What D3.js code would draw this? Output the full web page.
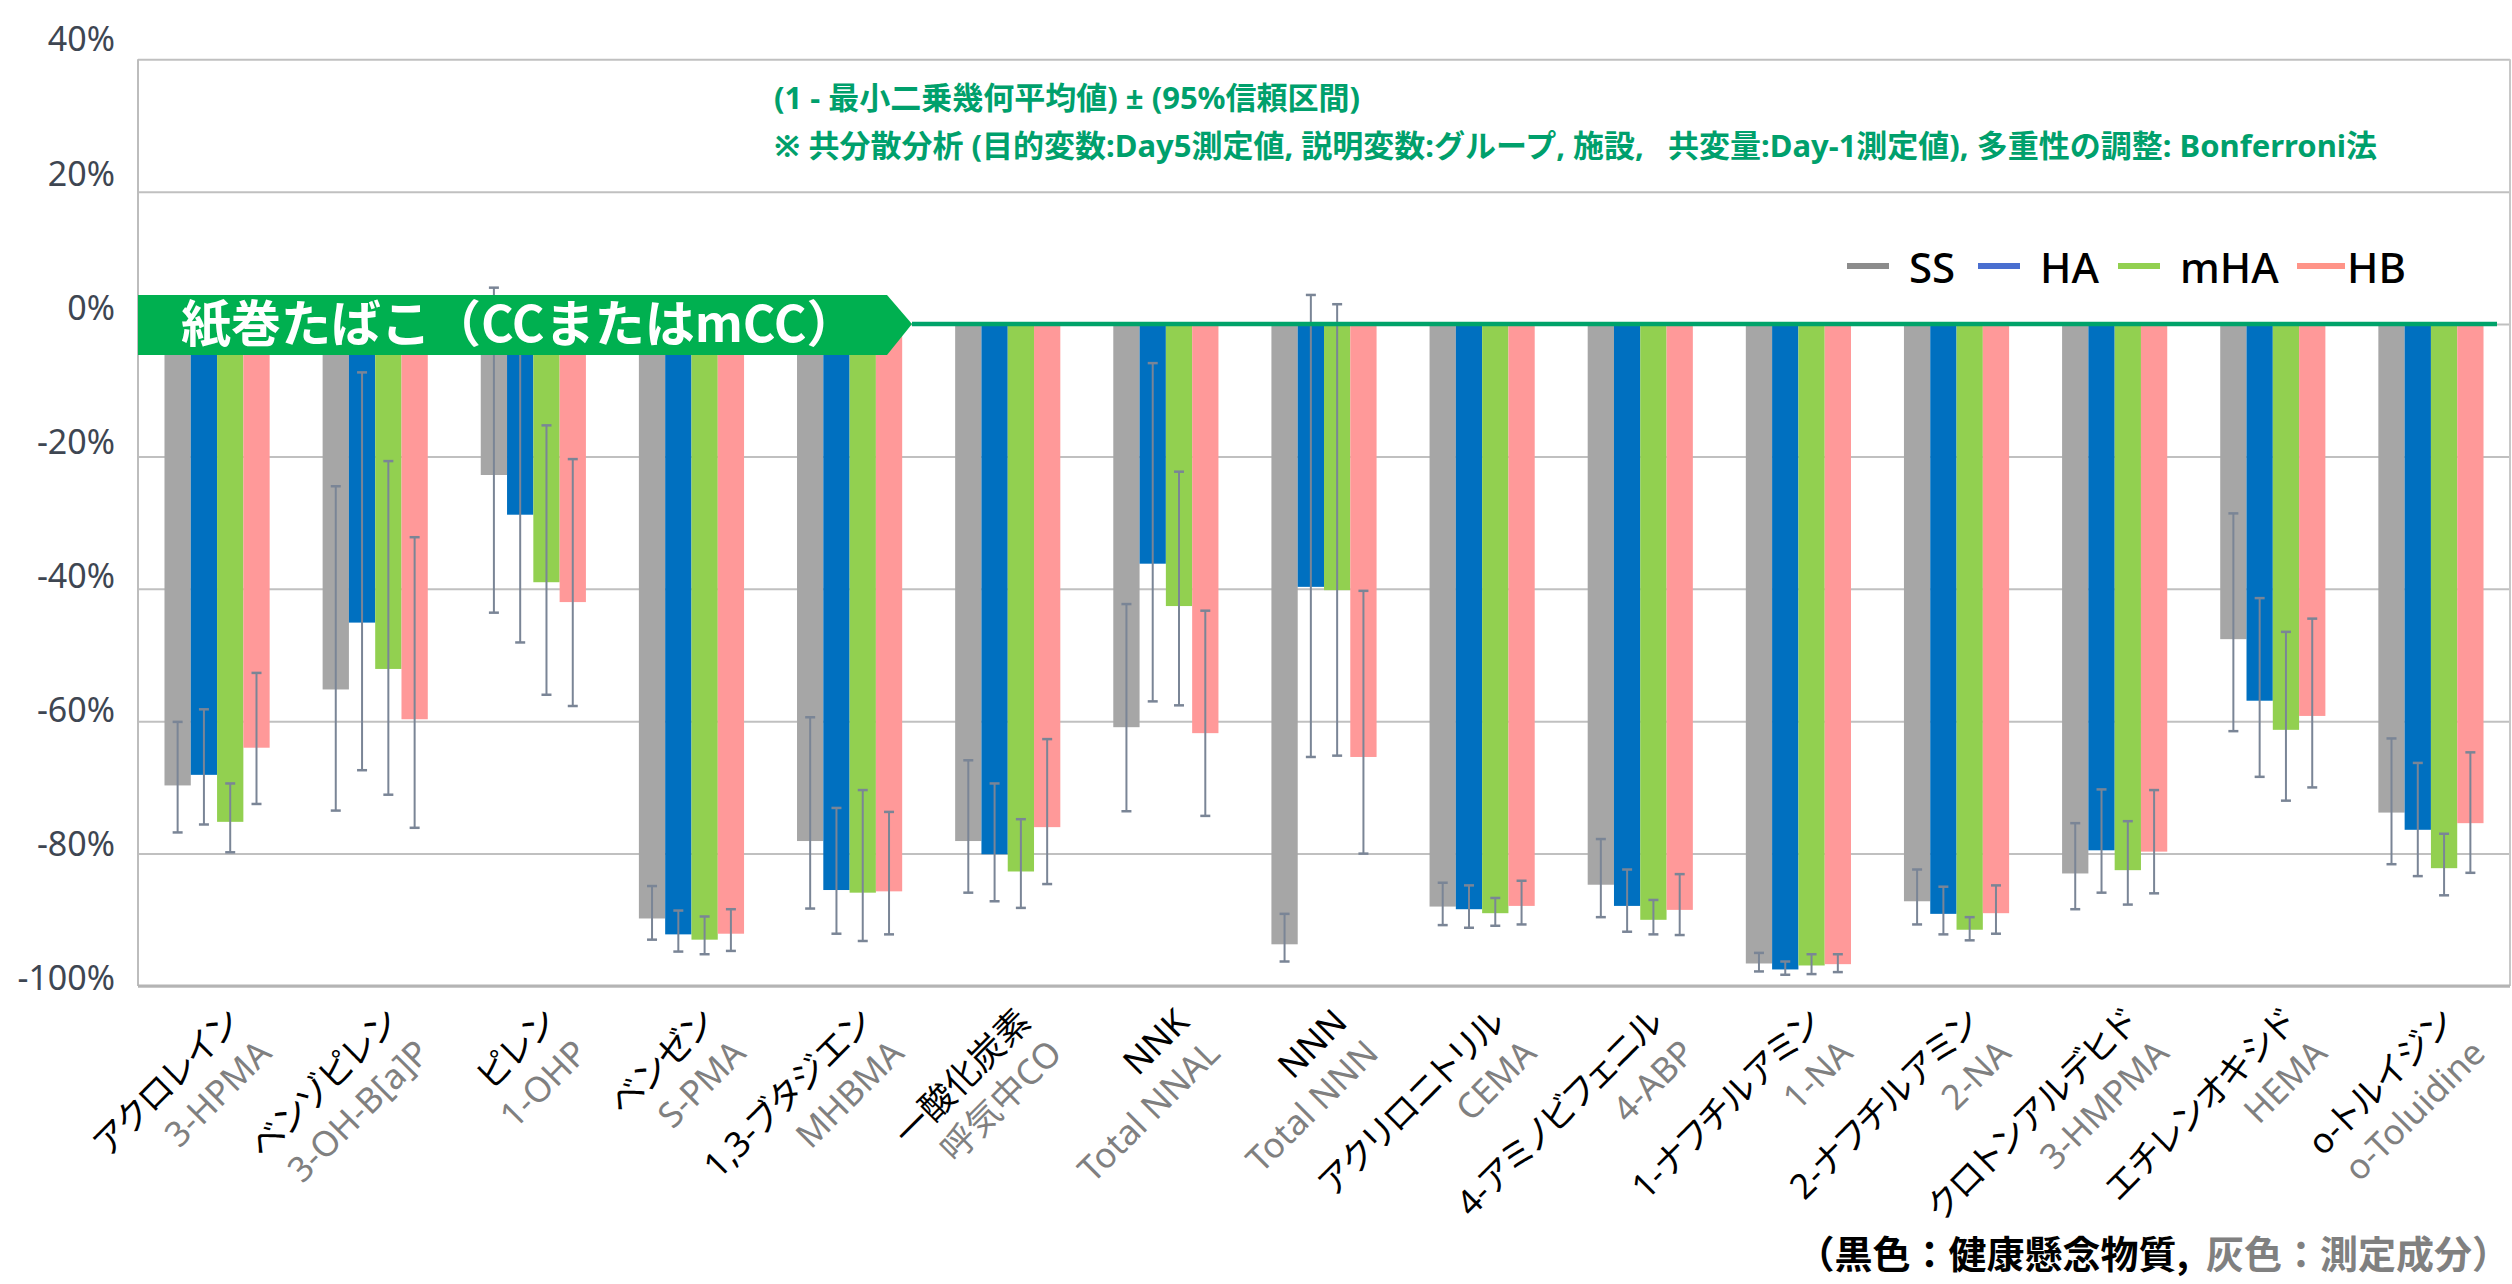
<!DOCTYPE html>
<html>
<head>
<meta charset="utf-8">
<script src="https://cdn.jsdelivr.net/npm/d3@7"></script>
<style>
  body { margin: 0; background: #fff; }
  svg { display: block; }
  text { font-family: "Noto Sans", "Noto Sans CJK JP", sans-serif; white-space: pre; }
</style>
</head>
<body>
<svg id="svg1" width="2512" height="1284"></svg>
<script>
// categories (black = substance, gray = measured biomarker)
var categories = ["アクロレイン", "ベンゾピレン", "ピレン", "ベンゼン", "1,3-ブタジエン", "一酸化炭素", "NNK", "NNN",
    "アクリロニトリル", "4-アミノビフェニル", "1-ナフチルアミン", "2-ナフチルアミン", "クロトンアルデヒド", "エチレンオキシド", "o-トルイジン"];
var markers = ["3-HPMA", "3-OH-B[a]P", "1-OHP", "S-PMA", "MHBMA", "呼気中CO", "Total NNAL", "Total NNN",
    "CEMA", "4-ABP", "1-NA", "2-NA", "3-HMPMA", "HEMA", "o-Toluidine"];
var groups = ["SS", "HA", "mHA", "HB"];

// (1 - LS geometric mean) in %, and 95% CI ends
var ssMean  = [-69.7, -55.2, -22.8, -89.8, -78.1, -78.1, -60.9, -93.7, -88.0, -84.7, -96.6, -87.2, -83.0, -47.6, -73.8];
var ssHigh  = [-60.1, -24.5,   5.5, -84.9, -59.4, -65.9, -42.3, -89.1, -84.4, -77.8, -95.0, -82.4, -75.4, -28.6, -62.6];
var ssLow   = [-76.8, -73.5, -43.6, -93.0, -88.3, -85.9, -73.6, -96.3, -90.8, -89.6, -97.8, -90.7, -88.4, -61.5, -81.6];

var haMean  = [-68.1, -45.1, -28.8, -92.2, -85.5, -80.1, -36.2, -39.7, -88.4, -87.9, -97.5, -89.1, -79.5, -56.9, -76.4];
var haHigh  = [-58.2,  -7.3,  -2.0, -88.6, -73.1, -69.4,  -5.9,   4.4, -84.8, -82.4, -96.3, -85.0, -70.3, -41.4, -66.3];
var haLow   = [-75.6, -67.4, -48.1, -94.8, -92.1, -87.2, -57.0, -65.4, -91.2, -91.8, -98.3, -92.2, -85.9, -68.4, -83.4];

var mhaMean = [-75.2, -52.1, -39.0, -93.0, -85.9, -82.7, -42.6, -40.2, -89.0, -90.0, -96.9, -91.5, -82.5, -61.3, -82.2];
var mhaHigh = [-69.4, -20.7, -15.3, -89.5, -70.4, -74.8, -22.3,   3.0, -86.7, -87.0, -95.2, -89.6, -75.1, -46.5, -77.0];
var mhaLow  = [-79.8, -71.1, -56.0, -95.2, -93.2, -88.2, -57.6, -65.2, -90.9, -92.2, -98.2, -93.1, -87.7, -72.0, -86.3];

var hbMean  = [-64.0, -59.7, -42.0, -92.1, -85.7, -76.0, -61.8, -65.4, -87.9, -88.5, -96.7, -89.0, -79.7, -59.2, -75.4];
var hbHigh  = [-52.7, -32.2, -20.4, -88.4, -73.7, -62.7, -43.3, -40.3, -84.1, -83.1, -95.2, -84.8, -70.4, -44.5, -64.7];
var hbLow   = [-72.5, -76.1, -57.7, -94.7, -92.2, -84.6, -74.3, -80.0, -90.7, -92.3, -97.9, -92.1, -86.0, -70.0, -82.9];

var yTicks = [40, 20, 0, -20, -40, -60, -80, -100];

var means = [ssMean, haMean, mhaMean, hbMean];
var highs = [ssHigh, haHigh, mhaHigh, hbHigh];
var lows  = [ssLow, haLow, mhaLow, hbLow];
var barColors = ["#a6a6a6", "#0070c0", "#92d050", "#ff9999"];
var legendColors = ["#8c8c8c", "#4a6fd0", "#92d050", "#ff9488"];

var svg = d3.select('svg');

var plotLeft = 138, plotRight = 2510, plotTop = 59.3, plotBottom = 986;

var x0 = d3.scaleBand()
    .domain(categories)
    .range([plotLeft, plotRight])
    .paddingInner(0.335)
    .paddingOuter(0.1675);

var x1 = d3.scaleBand()
    .domain(groups)
    .range([0, x0.bandwidth()]);

var y = d3.scaleLinear().domain([-100, 40]).range([plotBottom, plotTop]);
// tick labels sit a bit above their gridlines in the original
var yLabel = d3.scaleLinear().domain([-100, 40]).range([979, 40]);

// gridlines
var grid = svg.append('g')
    .attr('transform', 'translate(' + plotLeft + ',0)')
    .call(d3.axisLeft(y).tickValues(yTicks).tickSize(-(plotRight - plotLeft)).tickFormat(''));
grid.select('.domain').remove();
grid.selectAll('line').attr('stroke', '#c0c0c0').attr('stroke-width', 2);

// plot frame (left, right, bottom)
svg.append('line').attr('x1', plotLeft).attr('x2', plotLeft).attr('y1', plotTop).attr('y2', plotBottom)
    .attr('stroke', '#bdbdbd').attr('stroke-width', 2);
svg.append('line').attr('x1', plotRight).attr('x2', plotRight).attr('y1', plotTop).attr('y2', plotBottom)
    .attr('stroke', '#c8c8c8').attr('stroke-width', 2);
svg.append('line').attr('x1', plotLeft).attr('x2', plotRight).attr('y1', plotBottom).attr('y2', plotBottom)
    .attr('stroke', '#b4b4b4').attr('stroke-width', 3);

// y labels
var yAxis = svg.append('g')
    .attr('transform', 'translate(115,0)')
    .call(d3.axisLeft(yLabel).tickValues(yTicks).tickSize(0).tickPadding(0).tickFormat(function(d){ return d + '%'; }));
yAxis.select('.domain').remove();
yAxis.selectAll('text')
    .attr('font-size', 34)
    .attr('fill', '#3e4652')
    .style('font-family', '"Noto Sans", sans-serif');

// bars
var catG = svg.append('g').selectAll('g')
    .data(categories)
    .enter()
    .append('g')
    .attr('transform', function(d){ return 'translate(' + x0(d) + ',0)'; });

function cells(d, ci) {
    return groups.map(function(g, gi){
        return {g: g, gi: gi, v: means[gi][ci], hi: highs[gi][ci], lo: lows[gi][ci]};
    });
}

catG.selectAll('rect')
    .data(cells)
    .enter()
    .append('rect')
    .attr('x', function(d){ return x1(d.g); })
    .attr('width', x1.bandwidth())
    .attr('y', y(0))
    .attr('height', function(d){ return y(d.v) - y(0); })
    .attr('fill', function(d){ return barColors[d.gi]; });

// error bars
var errColor = '#7a8596';
var errG = catG.selectAll('g.err')
    .data(cells)
    .enter()
    .append('g')
    .attr('class', 'err')
    .attr('transform', function(d){ return 'translate(' + (x1(d.g) + x1.bandwidth() / 2) + ',0)'; });
errG.append('line')
    .attr('y1', function(d){ return y(d.hi); })
    .attr('y2', function(d){ return y(d.lo); })
    .attr('stroke', errColor).attr('stroke-width', 2);
errG.append('line')
    .attr('x1', -5).attr('x2', 5)
    .attr('y1', function(d){ return y(d.hi); })
    .attr('y2', function(d){ return y(d.hi); })
    .attr('stroke', errColor).attr('stroke-width', 2.5);
errG.append('line')
    .attr('x1', -5).attr('x2', 5)
    .attr('y1', function(d){ return y(d.lo); })
    .attr('y2', function(d){ return y(d.lo); })
    .attr('stroke', errColor).attr('stroke-width', 2.5);

// zero line (green) and CC banner
var bannerTip = 912;
svg.append('line')
    .attr('x1', bannerTip).attr('x2', 2497)
    .attr('y1', y(0)).attr('y2', y(0))
    .attr('stroke', '#00a36a').attr('stroke-width', 4.5);

var bTop = y(0) - 29, bBot = y(0) + 31;
svg.append('path')
    .attr('d', 'M' + plotLeft + ',' + bTop + 'L887,' + bTop + 'L' + bannerTip + ',' + y(0) +
               'L887,' + bBot + 'L' + plotLeft + ',' + bBot + 'Z')
    .attr('fill', '#00b050');
svg.append('text')
    .attr('x', 181).attr('y', y(0) + 18)
    .attr('fill', '#fff')
    .attr('font-size', 50)
    .attr('font-weight', 'bold')
    .style('font-family', '"Noto Sans CJK JP", sans-serif')
    .text('紙巻たばこ（CCまたはmCC）');

// notes
var note = svg.append('g')
    .attr('fill', '#00a06c')
    .attr('font-size', 31)
    .attr('font-weight', 'bold')
    .style('font-family', '"Noto Sans CJK JP", sans-serif');
note.append('text').attr('x', 774).attr('y', 109).text('(1 - 最小二乗幾何平均値) ± (95%信頼区間)');
note.append('text').attr('x', 774).attr('y', 157)
    .text('※ 共分散分析 (目的変数:Day5測定値, 説明変数:グループ, 施設,   共変量:Day-1測定値), 多重性の調整: Bonferroni法');

// legend
var legendX = [1847, 1978, 2118, 2297];
var leg = svg.append('g').selectAll('g')
    .data(groups)
    .enter()
    .append('g')
    .attr('transform', function(d, i){ return 'translate(' + legendX[i] + ',266)'; });
leg.append('line')
    .attr('x1', 0).attr('x2', function(d, i){ return i == 3 ? 48 : 42; })
    .attr('stroke', function(d, i){ return legendColors[i]; })
    .attr('stroke-width', 6);
leg.append('text')
    .attr('x', function(d, i){ return i == 3 ? 50 : 62; })
    .attr('y', 17)
    .attr('font-size', 42)
    .attr('font-weight', 500)
    .attr('fill', '#000')
    .text(function(d){ return d; });

// x labels, rotated
var xl = svg.append('g').selectAll('g')
    .data(categories)
    .enter()
    .append('g')
    .attr('transform', function(d){ return 'translate(' + (x0(d) + x0.bandwidth() / 2 + 6) + ',1005) rotate(-45)'; })
    .attr('text-anchor', 'end')
    .attr('font-size', 35)
    .style('font-feature-settings', '"palt"');
xl.append('text')
    .attr('y', 27)
    .attr('fill', '#000')
    .text(function(d){ return d; });
xl.append('text')
    .attr('y', 71)
    .attr('fill', '#808080')
    .text(function(d, i){ return markers[i]; });

// footer
var foot = svg.append('text')
    .attr('x', 2510).attr('y', 1268)
    .attr('text-anchor', 'end')
    .attr('font-size', 38)
    .attr('font-weight', 'bold')
    .style('font-family', '"Noto Sans CJK JP", sans-serif');
foot.append('tspan').attr('fill', '#000').text('（黒色：健康懸念物質,  ');
foot.append('tspan').attr('fill', '#808080').text('灰色：測定成分）');
</script>
</body>
</html>
